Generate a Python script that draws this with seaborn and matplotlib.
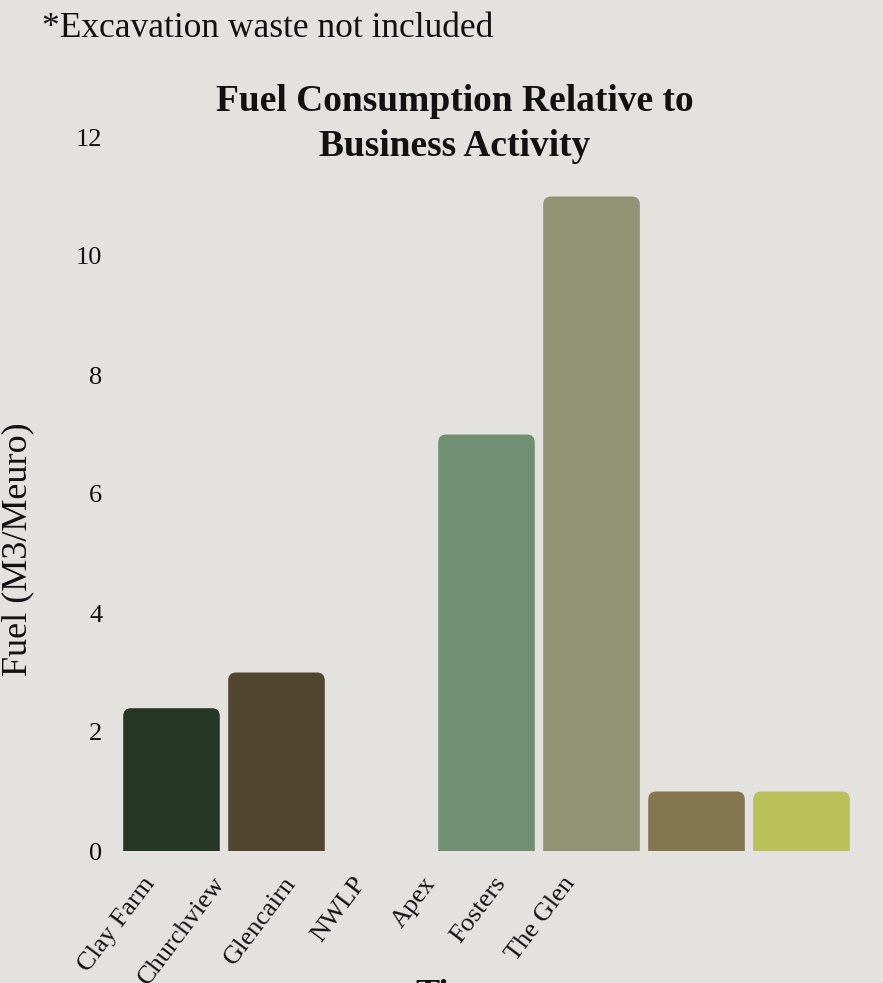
import numpy as np
import pandas as pd
import seaborn as sns
import matplotlib.pyplot as plt
import matplotlib.transforms as mtransforms
from matplotlib.patches import FancyBboxPatch

# ---- data ----
sites = ["Clay Farm", "Churchview", "Glencairn", "NWLP", "Apex", "Fosters", "The Glen"]
fuel = [2.4, 3.0, 0.0, 7.0, 11.0, 1.0, 1.0]
colors = ["#263626", "#524631", "#6b6b4f", "#718f72", "#919375", "#84774f", "#bac15a"]
yticks = [0, 2, 4, 6, 8, 10, 12]

BG = "#e3e2df"
INK = "#111111"
sns.set_theme(style="white")
plt.rcParams['font.family'] = ['Liberation Serif', 'DejaVu Serif']
plt.rcParams['text.color'] = INK

W, H = 883, 983
fig = plt.figure(figsize=(W / 100, H / 100), dpi=100, facecolor=BG)
ax = fig.add_axes([119 / W, (H - 851) / H, 735 / W, 714 / H])
ax.set_facecolor(BG)

df = pd.DataFrame({"site": sites, "fuel": fuel})
sns.barplot(data=df, x="site", y="fuel", hue="site", palette=colors, legend=False,
            width=0.92, saturation=1, ax=ax, linewidth=0)

ax.set_xlim(-0.5, len(sites) - 0.5)
ax.set_ylim(0, 12)

# rounded top corners
fig.canvas.draw()
inv = ax.transData.inverted()
p0 = inv.transform((0, 0))
p1 = inv.transform((8, 8))
rx, ry = abs(p1[0] - p0[0]), abs(p1[1] - p0[1])
for p in list(ax.patches):
    x, y, w, h = p.get_x(), p.get_y(), p.get_width(), p.get_height()
    fc = p.get_facecolor()
    p.remove()
    if h <= 0:
        continue
    fb = FancyBboxPatch((x, y - 2 * ry), w, h + 2 * ry,
                        boxstyle=f"round,pad=0,rounding_size={rx}",
                        mutation_aspect=ry / rx, facecolor=fc, edgecolor='none')
    ax.add_patch(fb)

for s in ax.spines.values():
    s.set_visible(False)
ax.set_yticks(yticks)
ax.set_yticklabels([str(v) for v in yticks], fontsize=19, color=INK)
ax.tick_params(axis='y', length=0, pad=12)
ax.set_xticks(range(len(sites)))
ax.set_xticklabels([])
ax.tick_params(axis='x', length=0)
ax.set_xlabel("")
ax.set_ylabel("")

# rotated category labels
base = ax.get_xaxis_transform()
for i, s in enumerate(sites):
    off = mtransforms.ScaledTranslation((-11.5 - 35 * i) / 100, -22 / 100, fig.dpi_scale_trans)
    ax.text(i, 0, s, transform=base + off, rotation=53, ha='right', va='top',
            fontsize=19, color=INK)

fig.text(455 / W, 1 - 124 / H, "Fuel Consumption Relative to\nBusiness Activity",
         ha='center', va='center', fontsize=27, fontweight='bold', linespacing=1.35)
fig.text(42 / W, 1 - 37 / H, "*Excavation waste not included", ha='left', va='baseline', fontsize=25.5)
fig.text(18 / W, 1 - 549 / H, "Fuel (M3/Meuro)", ha='center', va='center', rotation=90, fontsize=26)
fig.text(455 / W, 1 - 979 / H, "Time", ha='center', va='top', fontsize=26, fontweight='bold')

fig.savefig("out.png", dpi=100, facecolor=BG)
